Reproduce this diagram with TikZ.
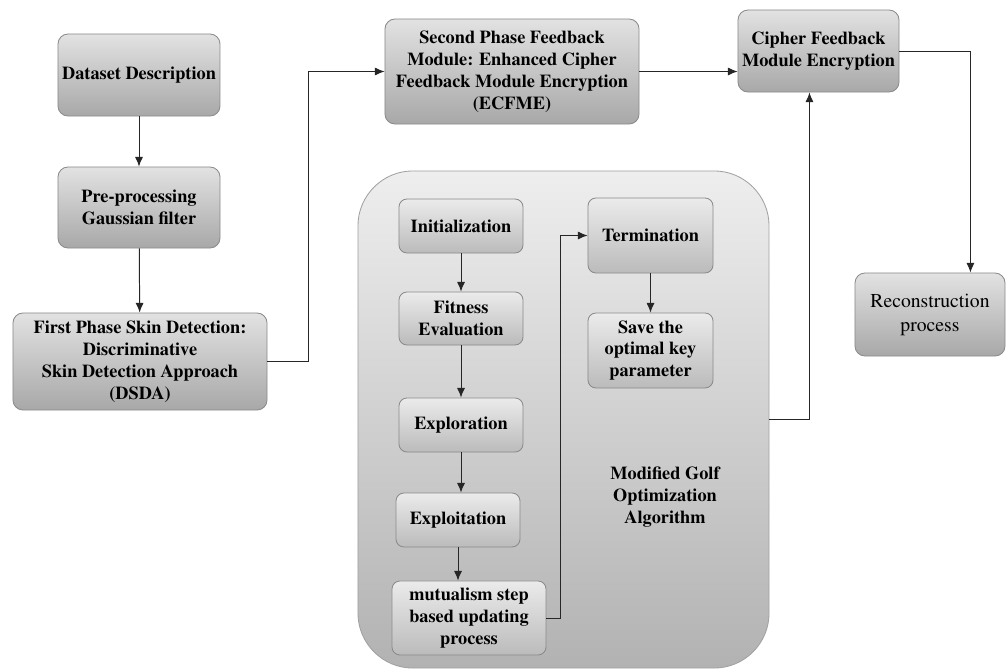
\documentclass[tikz,border=0pt]{standalone}
\usepackage[T1]{fontenc}
\usepackage{times}
\usetikzlibrary{arrows.meta}

\definecolor{boxtop}{HTML}{E2E2E2}
\definecolor{boxbot}{HTML}{A8A8A8}
\definecolor{subtop}{HTML}{EBEBEB}
\definecolor{subbot}{HTML}{BBBBBB}
\definecolor{conttop}{HTML}{EEEEEE}
\definecolor{contbot}{HTML}{B2B2B2}
\definecolor{edge}{HTML}{8A8A8A}

\tikzset{
  mainbox/.style={draw=edge, line width=0.6pt, rounded corners=0.25cm,
    top color=boxtop, bottom color=boxbot, align=center, inner sep=1pt,
    font=\fontsize{13}{15.6}\selectfont\bfseries},
  subbox/.style={draw=edge, line width=0.6pt, rounded corners=0.2cm,
    top color=subtop, bottom color=subbot, align=center, inner sep=1pt,
    minimum width=3.1cm, font=\fontsize{13}{15.6}\selectfont\bfseries},
  container/.style={draw=edge!80, line width=0.6pt, rounded corners=1.375cm,
    top color=conttop, bottom color=contbot},
  arr/.style={-{Latex[length=2.4mm,width=2mm]}, line width=0.7pt, black!85},
  wire/.style={line width=0.7pt, black!85}
}

\begin{document}
\begin{tikzpicture}[x=0.025cm, y=-0.025cm]

  %--- Margins ---
  \useasboundingbox (0,0) rectangle (1006,671);

  %--- Left column ---
  \node[mainbox, minimum width=4.05cm, minimum height=2.05cm] (data) at (139,75) {Dataset Description};
  \node[mainbox, minimum width=4.05cm, minimum height=2.025cm] (prep) at (139,207.5) {Pre-processing\\Gaussian filter};
  \node[mainbox, minimum width=6.35cm, minimum height=2.425cm] (first) at (140,361.5)
    {First Phase Skin Detection:\\Discriminative\\Skin Detection Approach\\(DSDA)};

  %--- Top row ---
  \node[mainbox, minimum width=6.35cm, minimum height=2.625cm] (second) at (512,71.5)
    {Second Phase Feedback\\Module: Enhanced Cipher\\Feedback Module Encryption\\(ECFME)};
  \node[mainbox, minimum width=4.025cm, minimum height=2.05cm] (cipher) at (818.5,51)
    {Cipher Feedback\\Module Encryption};
  \node[mainbox, minimum width=3.75cm, minimum height=2.075cm,
        font=\fontsize{14}{17}\selectfont] (recon) at (930,314.5) {Reconstruction\\process};

  %--- Golf optimisation block ---
  \node[container, minimum width=10.275cm, minimum height=12.425cm] (cont) at (563.5,419.5) {};
  \node[align=center, font=\fontsize{13}{15.6}\selectfont\bfseries] (golf) at (665,497)
    {Modified Golf\\Optimization\\Algorithm};

  \node[subbox, minimum height=1.35cm] (init) at (461,226) {Initialization};
  \node[subbox, minimum height=1.325cm] (fit) at (461,318.5) {Fitness\\Evaluation};
  \node[subbox, minimum height=1.35cm] (explor) at (461,425) {Exploration};
  \node[subbox, minimum height=1.35cm] (exploit) at (458,520) {Exploitation};
  \node[subbox, minimum width=3.85cm, minimum height=1.85cm] (mutual) at (469,618)
    {mutualism step\\based updating\\process};
  \node[subbox, minimum width=3.125cm, minimum height=1.875cm] (term) at (650.5,235.5) {Termination};
  \node[subbox, minimum width=3.125cm, minimum height=1.875cm] (save) at (650.5,350.5)
    {Save the\\optimal key\\parameter};

  %--- Connectors ---
  \draw[arr] (data) -- (prep);
  \draw[arr] (prep) -- (first);
  \draw[arr] (first.east) -- ++(41,0) |- (second.west);
  \draw[arr] (second.east) -- (second.east -| cipher.west);
  \draw[wire] (cipher.east) -- ++(71,0) coordinate (r1);
  \draw[arr] (r1) -- (r1 |- recon.north);
  \draw[wire] (cont.east) -- ++(40,0) coordinate (c1);
  \draw[arr] (c1) -- (c1 |- cipher.south);

  \draw[arr] (init) -- (fit);
  \draw[arr] (fit) -- (explor);
  \draw[arr] (explor.south) -- (explor.south |- exploit.north);
  \draw[arr] (exploit.south) -- (exploit.south |- mutual.north);
  \draw[arr] (mutual.east) -- ++(14,0) |- (term.west);
  \draw[arr] (term) -- (save);

\end{tikzpicture}
\end{document}
